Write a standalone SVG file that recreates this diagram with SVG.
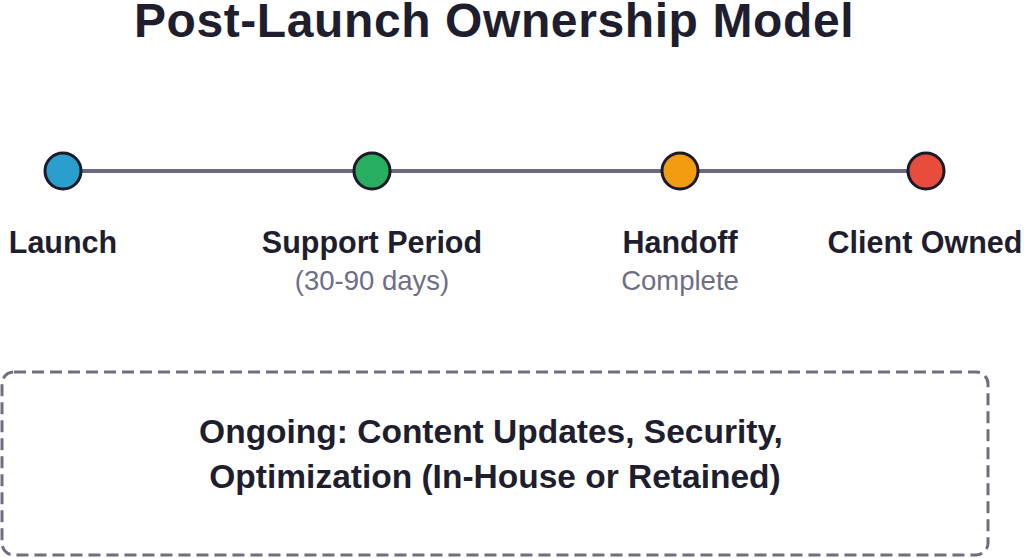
<svg xmlns="http://www.w3.org/2000/svg" width="1024" height="558" viewBox="0 0 1024 558">
  <style>
    .title { font-family: "Liberation Sans", Arial, sans-serif; font-weight: bold; font-size: 48px; fill: #1e1e2e; letter-spacing: 0.6px; }
    .label { font-family: "Liberation Sans", Arial, sans-serif; font-weight: bold; font-size: 30.5px; fill: #1e1e2e; }
    .sub { font-family: "Liberation Sans", Arial, sans-serif; font-size: 27.5px; fill: #6e6e85; }
    .boxtext { font-family: "Liberation Sans", Arial, sans-serif; font-weight: bold; font-size: 33.5px; fill: #1e1e2e; }
    .dot { stroke: #1a1a28; stroke-width: 3; }
    .conn { stroke: #6b6b80; stroke-width: 4; fill: none; }
  </style>
  <rect width="1024" height="558" fill="#ffffff"/>
  <text class="title" x="494" y="37" text-anchor="middle">Post-Launch Ownership Model</text>
  <g id="connectors">
    <line class="conn" x1="63" y1="171" x2="926" y2="171"/>
  </g>
  <g id="node-launch">
    <circle class="dot" cx="63" cy="171" r="18" fill="#2a9fcc"/>
    <text class="label" x="63" y="253" text-anchor="middle">Launch</text>
  </g>
  <g id="node-support">
    <circle class="dot" cx="372" cy="171" r="18" fill="#27ae60"/>
    <text class="label" x="372" y="253" text-anchor="middle">Support Period</text>
    <text class="sub" x="372" y="290" text-anchor="middle">(30-90 days)</text>
  </g>
  <g id="node-handoff">
    <circle class="dot" cx="680" cy="171" r="18" fill="#f39c12"/>
    <text class="label" x="680" y="253" text-anchor="middle">Handoff</text>
    <text class="sub" x="680" y="290" text-anchor="middle">Complete</text>
  </g>
  <g id="node-client">
    <circle class="dot" cx="926" cy="171" r="18" fill="#e74c3c"/>
    <text class="label" x="925" y="253" text-anchor="middle">Client Owned</text>
  </g>
  <g id="node-ongoing">
    <rect x="2" y="372" width="986" height="183" rx="12" fill="none" stroke="#6e6e80" stroke-width="3" stroke-dasharray="12 6"/>
    <text class="boxtext" x="491" y="443" text-anchor="middle">Ongoing: Content Updates, Security,</text>
    <text class="boxtext" x="495" y="488" text-anchor="middle">Optimization (In-House or Retained)</text>
  </g>
</svg>
